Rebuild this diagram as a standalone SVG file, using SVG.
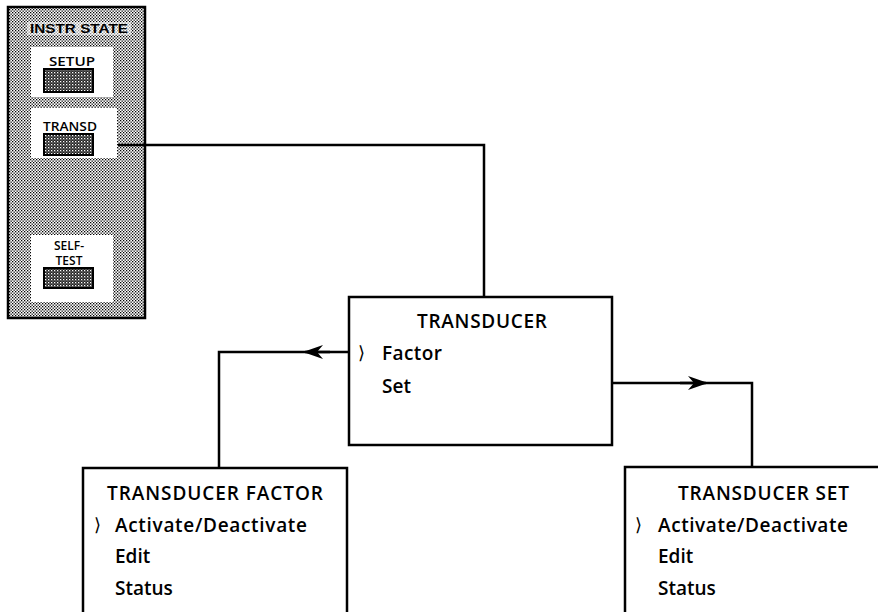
<svg xmlns="http://www.w3.org/2000/svg" width="878" height="612" viewBox="0 0 878 612">
<defs>
  <pattern id="dots" width="3" height="3" patternUnits="userSpaceOnUse">
    <rect width="3" height="3" fill="#ffffff"/>
    <rect x="0" y="0" width="1.3" height="1.3" fill="#000"/>
    <rect x="1.5" y="1.5" width="1.3" height="1.3" fill="#000"/>
  </pattern>
  <pattern id="hatch" width="3" height="3" patternUnits="userSpaceOnUse">
    <rect width="3" height="3" fill="#222"/>
    <rect x="0" y="0" width="1.3" height="1.3" fill="#fff"/>
    <rect x="1.5" y="1.5" width="1" height="1" fill="#ccc"/>
  </pattern>
  <marker id="arr" viewBox="0 0 20 14" refX="18" refY="7" markerWidth="20" markerHeight="14" markerUnits="userSpaceOnUse" orient="auto">
    <path d="M0,0 L20,7 L0,14 L6,7 Z" fill="#000"/>
  </marker>
</defs>
<style>
  .box { fill: #fff; stroke: #000; stroke-width: 2.5; }
  .ln { fill: none; stroke: #000; stroke-width: 2.5; }
  .t { font-family: "Open Sans", "Liberation Sans", sans-serif; font-size: 19px; font-weight: 600; fill: #000; }
  .p { font-family: "Open Sans", "Liberation Sans", sans-serif; font-size: 12px; font-weight: 600; fill: #000; }
  .br { font-family: "DejaVu Sans", sans-serif; font-size: 18px; fill: #000; }
  .btn { fill: url(#hatch); stroke: #000; stroke-width: 2; }
</style>

<g id="instr-state">
  <rect x="8" y="7" width="137" height="311" fill="url(#dots)" stroke="#000" stroke-width="2.5"/>
  <rect x="27" y="22" width="104" height="13" fill="#fff" opacity="0.55"/>
  <text x="79" y="33" text-anchor="middle" font-family="'Liberation Sans', sans-serif" font-weight="bold" font-size="12" textLength="98" lengthAdjust="spacingAndGlyphs">INSTR STATE</text>
  <g id="btn-setup">
    <rect x="31" y="47" width="82" height="50" fill="#fff"/>
    <text class="p" x="72" y="66" text-anchor="middle" textLength="46" lengthAdjust="spacingAndGlyphs">SETUP</text>
    <rect class="btn" x="44" y="69" width="49" height="23"/>
  </g>
  <g id="btn-transd">
    <rect x="31" y="108" width="86" height="50" fill="#fff"/>
    <text class="p" x="70" y="131" text-anchor="middle" textLength="54" lengthAdjust="spacingAndGlyphs">TRANSD</text>
    <rect class="btn" x="44" y="134" width="49" height="21"/>
  </g>
  <g id="btn-selftest">
    <rect x="31" y="235" width="82" height="67" fill="#fff"/>
    <text class="p" x="69" y="250" text-anchor="middle" font-size="10">SELF-</text>
    <text class="p" x="69" y="265" text-anchor="middle" font-size="10">TEST</text>
    <rect class="btn" x="44" y="268" width="49" height="20"/>
  </g>
</g>

<g id="connectors">
  <path class="ln" d="M118,145 H484 V297"/>
  <path class="ln" d="M349,352 H219 V468"/>
  <path class="ln" d="M330,352 H305" marker-end="url(#arr)"/>
  <path class="ln" d="M612,383 H752 V467"/>
  <path class="ln" d="M680,383 H706" marker-end="url(#arr)"/>
</g>

<g id="transducer">
  <rect class="box" x="349" y="297" width="263" height="148"/>
  <text class="t" x="417" y="328" textLength="130" lengthAdjust="spacing">TRANSDUCER</text>
  <text class="br" x="358" y="359">⟩</text>
  <text class="t" x="382" y="360" textLength="60" lengthAdjust="spacing">Factor</text>
  <text class="t" x="382" y="393">Set</text>
</g>

<g id="transducer-factor">
  <rect class="box" x="83" y="468" width="264" height="160"/>
  <text class="t" x="107" y="500" textLength="216" lengthAdjust="spacing">TRANSDUCER FACTOR</text>
  <text class="br" x="94" y="531">⟩</text>
  <text class="t" x="115" y="532" textLength="192" lengthAdjust="spacing">Activate/Deactivate</text>
  <text class="t" x="115" y="563">Edit</text>
  <text class="t" x="115" y="595">Status</text>
</g>

<g id="transducer-set">
  <rect class="box" x="625" y="467" width="270" height="160"/>
  <text class="t" x="678" y="500" textLength="171" lengthAdjust="spacing">TRANSDUCER SET</text>
  <text class="br" x="635" y="531">⟩</text>
  <text class="t" x="658" y="532" textLength="190" lengthAdjust="spacing">Activate/Deactivate</text>
  <text class="t" x="658" y="563">Edit</text>
  <text class="t" x="658" y="595">Status</text>
</g>
</svg>
